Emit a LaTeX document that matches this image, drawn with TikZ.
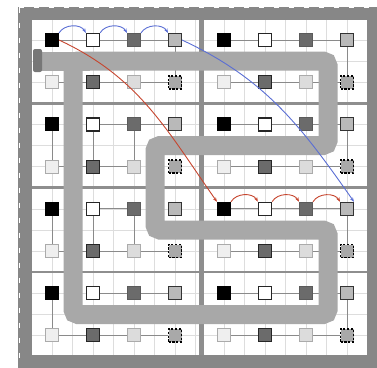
\documentclass[tikz,border=0pt]{standalone}
\usetikzlibrary{arrows.meta}
\pgfdeclarelayer{bg}
\pgfdeclarelayer{mid}
\pgfsetlayers{bg,mid,main}
\definecolor{framec}{HTML}{878787}
\definecolor{divc}{HTML}{8E8E8E}
\definecolor{bandc}{HTML}{A8A8A8}
\definecolor{markc}{HTML}{777777}
\definecolor{gridc}{HTML}{DDDDDD}
\definecolor{linkc}{HTML}{8A8A8A}
\definecolor{arrblue}{HTML}{5A6ED4}
\definecolor{arrred}{HTML}{C6452E}
\definecolor{dkc}{HTML}{6B6B6B}
\definecolor{grc}{HTML}{B9B9B9}
\definecolor{ltc}{HTML}{EFEFEF}
\definecolor{lt2c}{HTML}{DCDCDC}
\definecolor{ltbc}{HTML}{ABABAB}
\definecolor{dsc}{HTML}{A9A9A9}
\tikzset{
  sq/.style={draw, rectangle, minimum size=13pt, inner sep=0pt, line width=1pt},
  nblk/.style={sq, fill=black, draw=black},
  nwht/.style={sq, fill=white, draw=black!85, line width=1.3pt},
  ndk/.style={sq, fill=dkc, draw=dkc!85!black},
  ngr/.style={sq, fill=grc, draw=black!80},
  nlt/.style={sq, fill=ltc, draw=ltbc},
  ndk2/.style={sq, fill=dkc, draw=black!85},
  nlt2/.style={sq, fill=lt2c, draw=ltbc},
  nds/.style={sq, fill=dsc, draw=black, line width=1.6pt, dash pattern=on 2.2pt off 1.6pt},
  link/.style={draw=linkc, line width=0.9pt},
  gline/.style={draw=gridc, line width=0.6pt},
  band/.style={draw=bandc, line width=19pt},
  blarr/.style={draw=arrblue, line width=0.9pt, -{Stealth[length=4.5pt,width=3.4pt]}},
  rdarr/.style={draw=arrred, line width=0.9pt, -{Stealth[length=4.5pt,width=3.4pt]}},
}
\begin{document}
\begin{tikzpicture}[x=1pt,y=-1pt]
\useasboundingbox (0,0) rectangle (377,367);
\begin{pgfonlayer}{bg}
  % fine grid
  \foreach \i in {0,...,8}{
    \draw[gline] (31.5+20.5*\i,19) -- (31.5+20.5*\i,356);
    \draw[gline] (203.5+20.5*\i,19) -- (203.5+20.5*\i,356);
  }
  \foreach \j in {0,...,16}{
    \draw[gline] (32,18.9+21.1*\j) -- (367,18.9+21.1*\j);
  }
  % dividers
  \foreach \j in {103.3,187.7,272.1}{
    \draw[divc, line width=2.5pt] (32,\j) -- (367,\j);
  }
  \draw[divc, line width=5pt] (201,20) -- (201,355);
  % frame
  \draw[framec, line width=13.5pt] (25,13.5) rectangle (373.5,362);
  \draw[white, line width=1.1pt, dash pattern=on 5pt off 10pt] (19.2,7.8) -- (377,7.8);
  \draw[white, line width=1.1pt, dash pattern=on 5pt off 10pt] (19.2,7.8) -- (19.2,367);
\end{pgfonlayer}

% nodes
\foreach \cc/\xx in {L/52,R/224}{
  \foreach \rr in {1,2,3,4}{
    \pgfmathsetmacro\yy{40+84.4*(\rr-1)}
    \pgfmathsetmacro\yb{\yy+42.2}
    \node[nblk] (\cc\rr k) at (\xx,\yy) {};
    \node[nwht] (\cc\rr w) at (\xx+41,\yy) {};
    \node[ndk]  (\cc\rr d) at (\xx+82,\yy) {};
    \node[ngr]  (\cc\rr g) at (\xx+123,\yy) {};
    \node[nlt]  (\cc\rr l) at (\xx,\yb) {};
    \node[ndk2] (\cc\rr e) at (\xx+41,\yb) {};
    \node[nlt2] (\cc\rr m) at (\xx+82,\yb) {};
    \node[nds]  (\cc\rr s) at (\xx+123,\yb) {};
  }
}

\begin{pgfonlayer}{bg}
  \foreach \bb in {L1,R1,R2,R3,R4}{
    \draw[link] (\bb k) -- (\bb w) -- (\bb d) -- (\bb g) -- (\bb s) -- (\bb m) -- (\bb e) -- (\bb l);
  }
  \foreach \a/\b in {k/l,w/e,d/m,w/d,d/g,e/m,l/e}{ \draw[link] (L2\a) -- (L2\b); }
  \foreach \a/\b in {k/l,w/e,d/m,w/d,e/m,m/s,l/e}{ \draw[link] (L3\a) -- (L3\b); }
  \foreach \a/\b in {k/l,w/d,d/g,l/e,e/m,m/s}{ \draw[link] (L4\a) -- (L4\b); }
\end{pgfonlayer}

% thick gray band
\begin{pgfonlayer}{mid}
  \draw[band, rounded corners=5pt] (73,61) -- (328,61) -- (328,145.5) -- (155,145.5) -- (155,230) -- (328,230) -- (328,314.5) -- (73,314.5) -- cycle;
  \draw[band] (36,61) -- (90,61);
  \fill[markc, rounded corners=2pt] (33,49) rectangle (42,72);
\end{pgfonlayer}

% arrows
\foreach \a/\b in {k/w,w/d,d/g}{
  \draw[blarr] (L1\a.north east) to[out=60,in=120] (L1\b.north west);
  \draw[rdarr] (R3\a.north east) to[out=60,in=120] (R3\b.north west);
}
\draw[blarr] (L1g.east) to[out=-25,in=125] (R3g.north east);
\draw[rdarr] (L1k.east) to[out=-25,in=125] (R3k.north west);
\end{tikzpicture}
\end{document}
